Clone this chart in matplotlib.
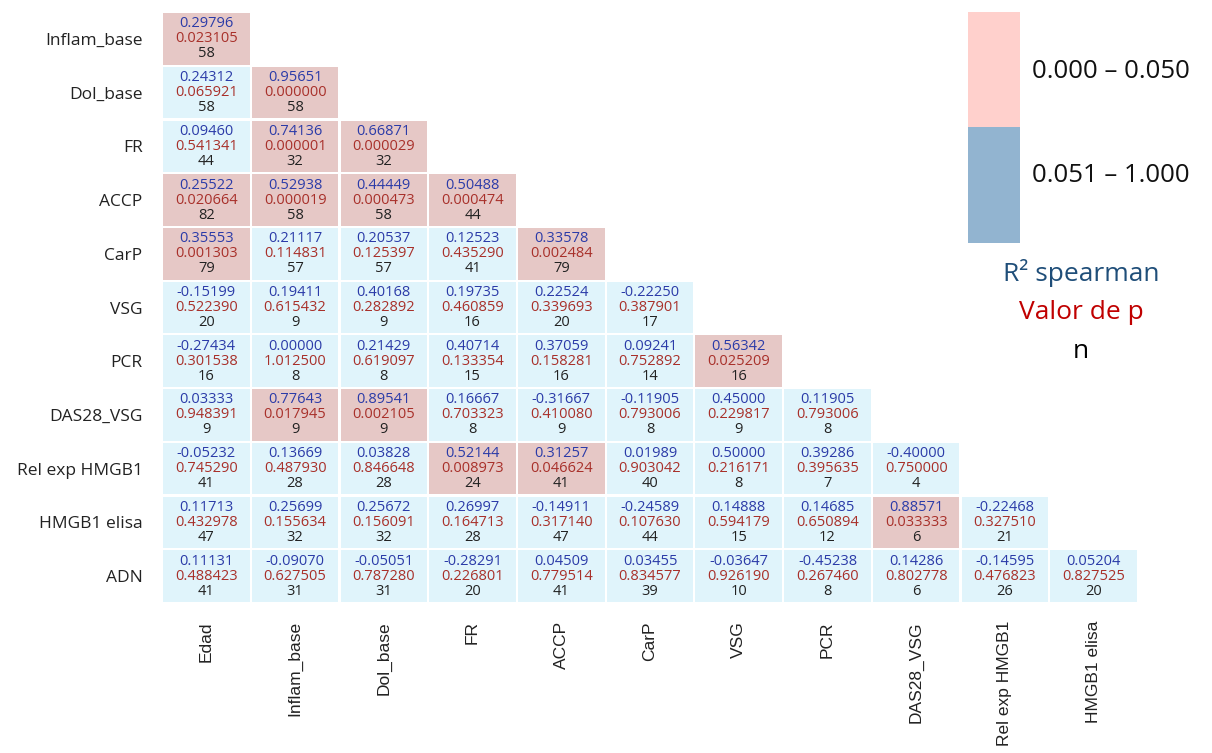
import numpy as np
import matplotlib
matplotlib.use("Agg")
from matplotlib import pyplot as plt
from matplotlib.patches import Rectangle

# etiquetas de filas y columnas
filas = ["Inflam_base", "Dol_base", "FR", "ACCP", "CarP", "VSG", "PCR",
         "DAS28_VSG", "Rel exp HMGB1", "HMGB1 elisa", "ADN"]
columnas = ["Edad", "Inflam_base", "Dol_base", "FR", "ACCP", "CarP", "VSG",
            "PCR", "DAS28_VSG", "Rel exp HMGB1", "HMGB1 elisa"]

# coeficientes de spearman (fila por fila, triangulo inferior)
r_vals = [
    [0.29796],
    [0.24312, 0.95651],
    [0.09460, 0.74136, 0.66871],
    [0.25522, 0.52938, 0.44449, 0.50488],
    [0.35553, 0.21117, 0.20537, 0.12523, 0.33578],
    [-0.15199, 0.19411, 0.40168, 0.19735, 0.22524, -0.22250],
    [-0.27434, 0.00000, 0.21429, 0.40714, 0.37059, 0.09241, 0.56342],
    [0.03333, 0.77643, 0.89541, 0.16667, -0.31667, -0.11905, 0.45000, 0.11905],
    [-0.05232, 0.13669, 0.03828, 0.52144, 0.31257, 0.01989, 0.50000, 0.39286, -0.40000],
    [0.11713, 0.25699, 0.25672, 0.26997, -0.14911, -0.24589, 0.14888, 0.14685, 0.88571, -0.22468],
    [0.11131, -0.09070, -0.05051, -0.28291, 0.04509, 0.03455, -0.03647, -0.45238, 0.14286, -0.14595, 0.05204],
]

# valores de p
p_vals = [
    [0.023105],
    [0.065921, 0.000000],
    [0.541341, 0.000001, 0.000029],
    [0.020664, 0.000019, 0.000473, 0.000474],
    [0.001303, 0.114831, 0.125397, 0.435290, 0.002484],
    [0.522390, 0.615432, 0.282892, 0.460859, 0.339693, 0.387901],
    [0.301538, 1.012500, 0.619097, 0.133354, 0.158281, 0.752892, 0.025209],
    [0.948391, 0.017945, 0.002105, 0.703323, 0.410080, 0.793006, 0.229817, 0.793006],
    [0.745290, 0.487930, 0.846648, 0.008973, 0.046624, 0.903042, 0.216171, 0.395635, 0.750000],
    [0.432978, 0.155634, 0.156091, 0.164713, 0.317140, 0.107630, 0.594179, 0.650894, 0.033333, 0.327510],
    [0.488423, 0.627505, 0.787280, 0.226801, 0.779514, 0.834577, 0.926190, 0.267460, 0.802778, 0.476823, 0.827525],
]

# tamaño de muestra
n_vals = [
    [58],
    [58, 58],
    [44, 32, 32],
    [82, 58, 58, 44],
    [79, 57, 57, 41, 79],
    [20, 9, 9, 16, 20, 17],
    [16, 8, 8, 15, 16, 14, 16],
    [9, 9, 9, 8, 9, 8, 9, 8],
    [41, 28, 28, 24, 41, 40, 8, 7, 4],
    [47, 32, 32, 28, 47, 44, 15, 12, 6, 21],
    [41, 31, 31, 20, 41, 39, 10, 8, 6, 26, 20],
]

rangos = ["0.000 \u2013 0.050", "0.051 \u2013 1.000"]

col_sig = "#e6c8c6"
col_nosig = "#e0f4fb"
col_r = "#2b3ba8"
col_p = "#a8302a"
col_n = "#222222"

W, H = 1212, 753
fig = plt.figure(figsize=(W / 100, H / 100), dpi=100)
ax = fig.add_axes([162 / W, 1 - 603 / H, 976 / W, 591 / H])

nf, nc = len(filas), len(columnas)
gx, gy = 0.012, 0.02
for i in range(nf):
    for j in range(len(r_vals[i])):
        p = p_vals[i][j]
        color = col_sig if p <= 0.05 else col_nosig
        ax.add_patch(Rectangle((j + gx, i + gy), 1 - 2 * gx, 1 - 2 * gy,
                               facecolor=color, edgecolor="none"))
        cx, cy = j + 0.5, i + 0.5
        ax.text(cx, cy - 0.28, f"{r_vals[i][j]:.5f}", ha="center", va="center",
                fontsize=10.5, color=col_r, family="Open Sans")
        ax.text(cx, cy, f"{p:.6f}", ha="center", va="center",
                fontsize=10.5, color=col_p, family="Open Sans")
        ax.text(cx, cy + 0.28, f"{n_vals[i][j]}", ha="center", va="center",
                fontsize=10.5, color=col_n, family="Open Sans")

ax.set_xlim(0, nc)
ax.set_ylim(nf, 0)
ax.set_yticks(np.arange(nf) + 0.5)
ax.set_yticklabels(filas, fontsize=12.5, family="Open Sans", color="#222222")
ax.set_xticks(np.arange(nc) + 0.5)
ax.set_xticklabels(columnas, rotation=90, fontsize=12.5, family="Liberation Sans",
                   color="#222222", va="top")
ax.tick_params(length=0, pad=13, axis="x")
ax.tick_params(length=0, pad=14, axis="y")
for s in ax.spines.values():
    s.set_visible(False)

# leyenda de colores
lax = fig.add_axes([968 / W, 1 - 243 / H, 52 / W, 231 / H])
lax.add_patch(Rectangle((0, 0.5), 1, 0.5, facecolor="#ffd0cc", edgecolor="none"))
lax.add_patch(Rectangle((0, 0), 1, 0.5, facecolor="#92b4d0", edgecolor="none"))
lax.set_xlim(0, 1)
lax.set_ylim(0, 1)
lax.axis("off")

fig.text(1032 / W, 1 - 72 / H, rangos[0], fontsize=18.5, family="Open Sans",
         va="center", ha="left", color="#111111")
fig.text(1032 / W, 1 - 175 / H, rangos[1], fontsize=18.5, family="Open Sans",
         va="center", ha="left", color="#111111")
fig.text(1081 / W, 1 - 273 / H, "R\u00b2 spearman", fontsize=19, family="Open Sans",
         va="center", ha="center", color="#1f4e79")
fig.text(1081 / W, 1 - 312 / H, "Valor de p", fontsize=19, family="Open Sans",
         va="center", ha="center", color="#c00000")
fig.text(1081 / W, 1 - 352 / H, "n", fontsize=19, family="Open Sans",
         va="center", ha="center", color="#000000")

fig.savefig("out.png", dpi=100)
